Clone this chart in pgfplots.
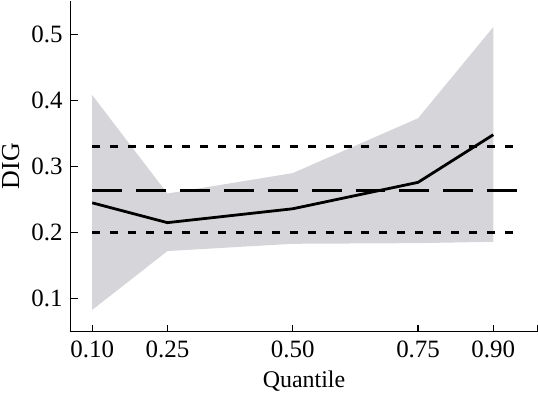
\documentclass[border=0pt]{standalone}
\usepackage{pgfplots}
\pgfplotsset{compat=1.18}
\usepackage{fontspec}
\setmainfont{Liberation Serif}
\usepgfplotslibrary{fillbetween}
\definecolor{band}{RGB}{214,214,218}
\begin{document}
\begin{tikzpicture}
\begin{axis}[
  scale only axis,
  width=234pt, height=166pt,
  xmin=0.057, xmax=0.988,
  ymin=0.05, ymax=0.551,
  axis lines*=left,
  axis line style={line width=0.6pt},
  tick style={line width=0.6pt, black},
  major tick length=3.5pt,
  tick align=inside,
  /pgf/number format/assume math mode=true,
  xtick={0.1,0.25,0.5,0.75,0.9},
  xticklabels={0.10,0.25,0.50,0.75,0.90},
  ytick={0.1,0.2,0.3,0.4,0.5},
  yticklabels={0.1,0.2,0.3,0.4,0.5},
  tick label style={font=\fontsize{12.5}{15}\selectfont},
  xticklabel style={yshift=-1pt},
  yticklabel style={xshift=-0.5pt},
  xlabel={Quantile},
  ylabel={DIG},
  xlabel style={font=\fontsize{12}{14}\selectfont, inner sep=1pt, yshift=-2pt},
  ylabel style={font=\fontsize{13}{15}\selectfont, inner sep=1pt, yshift=1.5pt},
  clip=false,
]
\addplot[name path=up, draw=none, forget plot] coordinates {(0.10,0.408) (0.25,0.259) (0.50,0.290) (0.75,0.373) (0.90,0.511)};
\addplot[name path=lo, draw=none, forget plot] coordinates {(0.10,0.083) (0.25,0.172) (0.50,0.183) (0.75,0.184) (0.90,0.186)};
\addplot[fill=band, draw=none] fill between[of=up and lo];
\addplot[black, line width=1.4pt, dash pattern=on 4pt off 5pt] coordinates {(0.10,0.330) (0.95,0.330)};
\addplot[black, line width=1.4pt, dash pattern=on 4pt off 5pt] coordinates {(0.10,0.200) (0.95,0.200)};
\addplot[black, line width=1.4pt, dash pattern=on 15pt off 7pt] coordinates {(0.10,0.264) (0.95,0.264)};
\addplot[black, line width=1.4pt] coordinates {(0.10,0.245) (0.25,0.215) (0.50,0.236) (0.75,0.276) (0.90,0.348)};
\draw[line width=0.6pt] (axis cs:0.988,0.05) -- ([yshift=3.5pt]axis cs:0.988,0.05);
\end{axis}
\end{tikzpicture}
\end{document}
